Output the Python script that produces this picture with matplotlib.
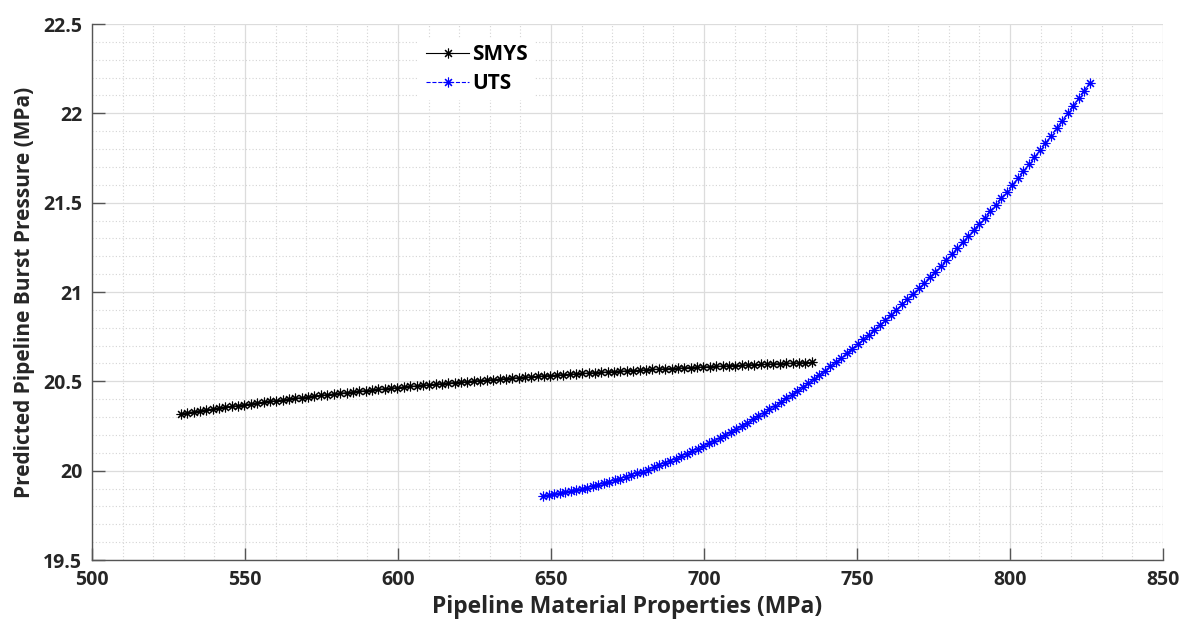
import matplotlib
matplotlib.use("Agg")
import matplotlib.pyplot as plt
from matplotlib.ticker import MultipleLocator

plt.rcParams['font.family'] = ['Open Sans', 'DejaVu Sans']
plt.rcParams['font.weight'] = 'bold'

# ---- data ----
smys_x = [529.0, 531.1, 533.2, 535.2, 537.3, 539.4, 541.5, 543.6, 545.7, 547.7,
          549.8, 551.9, 554.0, 556.1, 558.2, 560.2, 562.3, 564.4, 566.5, 568.6,
          570.7, 572.7, 574.8, 576.9, 579.0, 581.1, 583.2, 585.2, 587.3, 589.4,
          591.5, 593.6, 595.7, 597.7, 599.8, 601.9, 604.0, 606.1, 608.2, 610.2,
          612.3, 614.4, 616.5, 618.6, 620.7, 622.7, 624.8, 626.9, 629.0, 631.1,
          633.2, 635.2, 637.3, 639.4, 641.5, 643.6, 645.6, 647.7, 649.8, 651.9,
          654.0, 656.1, 658.1, 660.2, 662.3, 664.4, 666.5, 668.6, 670.6, 672.7,
          674.8, 676.9, 679.0, 681.1, 683.1, 685.2, 687.3, 689.4, 691.5, 693.6,
          695.6, 697.7, 699.8, 701.9, 704.0, 706.1, 708.1, 710.2, 712.3, 714.4,
          716.5, 718.6, 720.6, 722.7, 724.8, 726.9, 729.0, 731.1, 733.1, 735.2]
smys_y = [20.3187, 20.3241, 20.3294, 20.3346, 20.3398, 20.3449, 20.3499, 20.3549, 20.3597, 20.3645,
          20.3693, 20.3740, 20.3786, 20.3831, 20.3876, 20.3920, 20.3964, 20.4006, 20.4049, 20.4090,
          20.4131, 20.4172, 20.4212, 20.4251, 20.4290, 20.4328, 20.4366, 20.4403, 20.4440, 20.4476,
          20.4511, 20.4546, 20.4581, 20.4615, 20.4649, 20.4682, 20.4714, 20.4746, 20.4778, 20.4809,
          20.4840, 20.4871, 20.4901, 20.4930, 20.4959, 20.4988, 20.5016, 20.5044, 20.5072, 20.5099,
          20.5125, 20.5152, 20.5178, 20.5203, 20.5228, 20.5253, 20.5278, 20.5302, 20.5326, 20.5349,
          20.5372, 20.5395, 20.5417, 20.5440, 20.5461, 20.5483, 20.5504, 20.5525, 20.5546, 20.5566,
          20.5586, 20.5606, 20.5625, 20.5644, 20.5663, 20.5682, 20.5700, 20.5718, 20.5736, 20.5754,
          20.5771, 20.5788, 20.5805, 20.5822, 20.5838, 20.5854, 20.5870, 20.5886, 20.5901, 20.5917,
          20.5932, 20.5946, 20.5961, 20.5975, 20.5990, 20.6004, 20.6017, 20.6031, 20.6044, 20.6058]

uts_x = [647.5, 649.3, 651.1, 652.9, 654.7, 656.5, 658.3, 660.1, 661.9, 663.7,
         665.5, 667.3, 669.1, 670.9, 672.7, 674.5, 676.3, 678.2, 680.0, 681.8,
         683.6, 685.4, 687.2, 689.0, 690.8, 692.6, 694.4, 696.2, 698.0, 699.8,
         701.6, 703.4, 705.2, 707.0, 708.8, 710.6, 712.4, 714.2, 716.0, 717.8,
         719.6, 721.4, 723.2, 725.0, 726.8, 728.6, 730.4, 732.2, 734.0, 735.8,
         737.7, 739.5, 741.3, 743.1, 744.9, 746.7, 748.5, 750.3, 752.1, 753.9,
         755.7, 757.5, 759.3, 761.1, 762.9, 764.7, 766.5, 768.3, 770.1, 771.9,
         773.7, 775.5, 777.3, 779.1, 780.9, 782.7, 784.5, 786.3, 788.1, 789.9,
         791.7, 793.5, 795.3, 797.1, 799.0, 800.8, 802.6, 804.4, 806.2, 808.0,
         809.8, 811.6, 813.4, 815.2, 817.0, 818.8, 820.6, 822.4, 824.2, 826.0]
uts_y = [19.8590, 19.8635, 19.8684, 19.8736, 19.8792, 19.8852, 19.8915, 19.8981, 19.9051, 19.9125,
         19.9203, 19.9284, 19.9368, 19.9457, 19.9549, 19.9644, 19.9744, 19.9847, 19.9953, 20.0064,
         20.0178, 20.0295, 20.0417, 20.0542, 20.0671, 20.0804, 20.0941, 20.1081, 20.1225, 20.1373,
         20.1525, 20.1680, 20.1839, 20.2002, 20.2169, 20.2340, 20.2515, 20.2694, 20.2876, 20.3062,
         20.3253, 20.3447, 20.3645, 20.3847, 20.4053, 20.4262, 20.4476, 20.4694, 20.4916, 20.5142,
         20.5371, 20.5605, 20.5843, 20.6084, 20.6330, 20.6580, 20.6834, 20.7092, 20.7354, 20.7620,
         20.7890, 20.8164, 20.8442, 20.8725, 20.9011, 20.9302, 20.9597, 20.9896, 21.0199, 21.0506,
         21.0818, 21.1134, 21.1454, 21.1778, 21.2106, 21.2438, 21.2775, 21.3116, 21.3461, 21.3811,
         21.4165, 21.4523, 21.4885, 21.5252, 21.5623, 21.5998, 21.6378, 21.6762, 21.7150, 21.7543,
         21.7940, 21.8341, 21.8747, 21.9157, 21.9572, 21.9991, 22.0414, 22.0842, 22.1275, 22.1711]

series_labels = ["SMYS", "UTS"]
x_ticks = [500, 550, 600, 650, 700, 750, 800, 850]
y_ticks = [19.5, 20, 20.5, 21, 21.5, 22, 22.5]
x_tick_labels = ["500", "550", "600", "650", "700", "750", "800", "850"]
y_tick_labels = ["19.5", "20", "20.5", "21", "21.5", "22", "22.5"]
x_label = "Pipeline Material Properties (MPa)"
y_label = "Predicted Pipeline Burst Pressure (MPa)"

# ---- figure ----
fig = plt.figure(figsize=(11.84, 6.24), dpi=100)
ax = fig.add_axes([92/1184, 64/624, (1163-92)/1184, (560-24)/624])

asterisk = (8, 2, 0)
ax.plot(smys_x, smys_y, color='black', linestyle='-', linewidth=0.8,
        marker=asterisk, markersize=7, markeredgewidth=0.8, label=series_labels[0], zorder=3)
ax.plot(uts_x, uts_y, color='#0000ff', linestyle='--', linewidth=0.8,
        marker=asterisk, markersize=7, markeredgewidth=0.8, label=series_labels[1], zorder=3)

ax.set_xlim(500, 850)
ax.set_ylim(19.5, 22.5)
ax.set_xticks(x_ticks)
ax.set_xticklabels(x_tick_labels, fontweight='bold')
ax.set_yticks(y_ticks)
ax.set_yticklabels(y_tick_labels, fontweight='bold')
ax.xaxis.set_minor_locator(MultipleLocator(10))
ax.yaxis.set_minor_locator(MultipleLocator(0.1))

ax.grid(which='major', color='#dcdcdc', linestyle='-', linewidth=0.9)
ax.grid(which='minor', color='#d4d4d4', linestyle=(0, (1, 2)), linewidth=0.8)
ax.set_axisbelow(True)

for s in ['top', 'right']:
    ax.spines[s].set_visible(False)
for s in ['left', 'bottom']:
    ax.spines[s].set_color('#555555')
    ax.spines[s].set_linewidth(1.0)

ax.tick_params(which='major', direction='in', length=9, width=1.0, color='#555555',
               labelsize=14, labelcolor='#262626', pad=7)
ax.tick_params(which='minor', length=0)

ax.set_xlabel(x_label, fontsize=16.5, fontweight='bold', color='#262626', labelpad=4)
ax.set_ylabel(y_label, fontsize=15, fontweight='bold', color='#262626', labelpad=6)

leg = ax.legend(loc='upper left', bbox_to_anchor=(0.296, 0.994), frameon=True,
                prop={'weight': 'bold', 'size': 15}, handlelength=2.1,
                handletextpad=0.15, labelspacing=0.4, borderpad=0.3)
leg.get_frame().set_edgecolor('none')
leg.get_frame().set_facecolor('white')
leg.get_frame().set_alpha(1.0)

fig.savefig("out.png", dpi=100)
